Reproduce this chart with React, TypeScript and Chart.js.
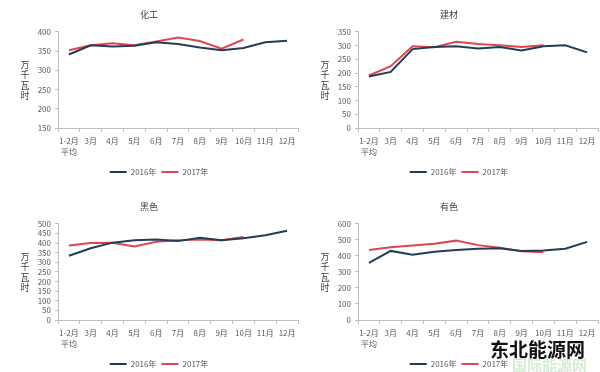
import React, { useEffect, useRef } from 'react';
import { Chart, registerables } from 'chart.js';

Chart.register(...registerables);

const categories: (string | string[])[] = [['1-2月', '平均'], '3月', '4月', '5月', '6月', '7月', '8月', '9月', '10月', '11月', '12月'];
const seriesNames = ['2016年', '2017年'];
const yTitle = '万千瓦时';

const chemical2016 = [341, 365, 362, 364, 373, 368, 359, 352, 358, 373, 377];
const chemical2017 = [352, 365, 370, 365, 375, 385, 376, 356, 380];

const building2016 = [187, 204, 287, 295, 297, 289, 295, 282, 297, 301, 275];
const building2017 = [191, 225, 297, 294, 314, 306, 301, 295, 301];

const ferrous2016 = [334, 373, 402, 414, 418, 410, 428, 414, 425, 441, 464];
const ferrous2017 = [387, 400, 402, 382, 407, 415, 419, 415, 431];

const nonferrous2016 = [356, 431, 407, 426, 437, 445, 447, 431, 433, 445, 487];
const nonferrous2017 = [437, 454, 465, 476, 495, 467, 450, 428, 423];

const FONT = '"Noto Sans CJK SC", "Noto Sans", sans-serif';
const DARK = '#243d56';
const RED = '#e0464e';
const AXIS = '#bfbfbf';
const TEXT = '#595959';

const yTitlePlugin = {
  id: 'yTitleStack',
  afterLayout(chart: any) {
    if (chart.legend) {
      chart.legend.left += 10;
      chart.legend.right += 10;
    }
  },
  afterDraw(chart: any) {
    const { ctx, chartArea } = chart;
    const chars = Array.from(yTitle);
    const step = 10.5;
    const mid = (chartArea.top + chartArea.bottom) / 2;
    const start = mid - ((chars.length - 1) * step) / 2;
    ctx.save();
    ctx.font = `9px ${FONT}`;
    ctx.fillStyle = '#404040';
    ctx.textAlign = 'center';
    ctx.textBaseline = 'middle';
    chars.forEach((c, i) => ctx.fillText(c, 25, start + i * step));
    ctx.restore();
  },
};

type PanelProps = {
  title: string;
  d2016: number[];
  d2017: number[];
  min: number;
  max: number;
  step: number;
  left: number;
  top: number;
};

function Panel({ title, d2016, d2017, min, max, step, left, top }: PanelProps) {
  const ref = useRef<HTMLCanvasElement | null>(null);
  useEffect(() => {
    if (!ref.current) return;
    const chart = new Chart(ref.current, {
      type: 'line',
      data: {
        labels: categories as any,
        datasets: [
          { label: seriesNames[0], data: d2016, borderColor: DARK, backgroundColor: DARK, borderWidth: 2, pointRadius: 0, tension: 0 },
          { label: seriesNames[1], data: d2017, borderColor: RED, backgroundColor: RED, borderWidth: 2, pointRadius: 0, tension: 0 },
        ],
      },
      options: {
        responsive: false,
        animation: false,
        layout: { padding: { left: 0, right: 2, top: 0, bottom: 0 } },
        plugins: {
          title: {
            display: true,
            text: title,
            color: '#404040',
            font: { size: 9, family: FONT, weight: 'normal' },
            padding: { top: 9, bottom: 12 },
          },
          legend: {
            position: 'bottom',
            labels: {
              usePointStyle: true,
              pointStyle: 'line',
              pointStyleWidth: 17,
              color: TEXT,
              font: { size: 8, family: FONT },
              padding: 5,
            },
          },
          tooltip: { enabled: false },
        },
        scales: {
          x: {
            offset: true,
            grid: { offset: true, drawOnChartArea: false, tickLength: 4, color: AXIS },
            border: { color: AXIS },
            ticks: {
              autoSkip: false,
              maxRotation: 0,
              padding: 4,
              color: TEXT,
              font: { size: 8, family: FONT, lineHeight: 1.35 },
            },
            afterFit: (s: any) => { s.height = 35; },
          },
          y: {
            min,
            max,
            grid: { drawOnChartArea: false, tickLength: 3, color: AXIS },
            border: { color: AXIS },
            ticks: { stepSize: step, autoSkip: false, padding: 4, color: TEXT, font: { size: 8, family: FONT } },
            afterFit: (s: any) => { s.width = 58; },
          },
        },
      } as any,
      plugins: [yTitlePlugin],
    });
    return () => chart.destroy();
  }, []);
  return (
    <canvas
      ref={ref}
      width={300}
      height={186}
      style={{ position: 'absolute', left, top, width: 300, height: 186 }}
    />
  );
}

export default function App() {
  return (
    <div
      style={{
        position: 'fixed',
        left: 0,
        top: 0,
        width: 600,
        height: 372,
        overflow: 'hidden',
        background: '#ffffff',
      }}
    >
      <Panel title="化工" d2016={chemical2016} d2017={chemical2017} min={150} max={400} step={50} left={0} top={0} />
      <Panel title="建材" d2016={building2016} d2017={building2017} min={0} max={350} step={50} left={300} top={0} />
      <Panel title="黑色" d2016={ferrous2016} d2017={ferrous2017} min={0} max={500} step={50} left={0} top={192} />
      <Panel title="有色" d2016={nonferrous2016} d2017={nonferrous2017} min={0} max={600} step={100} left={300} top={192} />
      <div
        style={{
          position: 'absolute',
          left: 490,
          top: 338,
          fontFamily: FONT,
          fontWeight: 700,
          fontSize: 19,
          color: '#111',
          lineHeight: '22px',
          whiteSpace: 'nowrap',
        }}
      >
        东北能源网
      </div>
      <div
        style={{
          position: 'absolute',
          left: 512,
          top: 357,
          fontFamily: FONT,
          fontWeight: 700,
          fontSize: 15,
          color: '#d7ecd8',
          lineHeight: '16px',
          whiteSpace: 'nowrap',
        }}
      >
        国际能源网
      </div>
    </div>
  );
}
